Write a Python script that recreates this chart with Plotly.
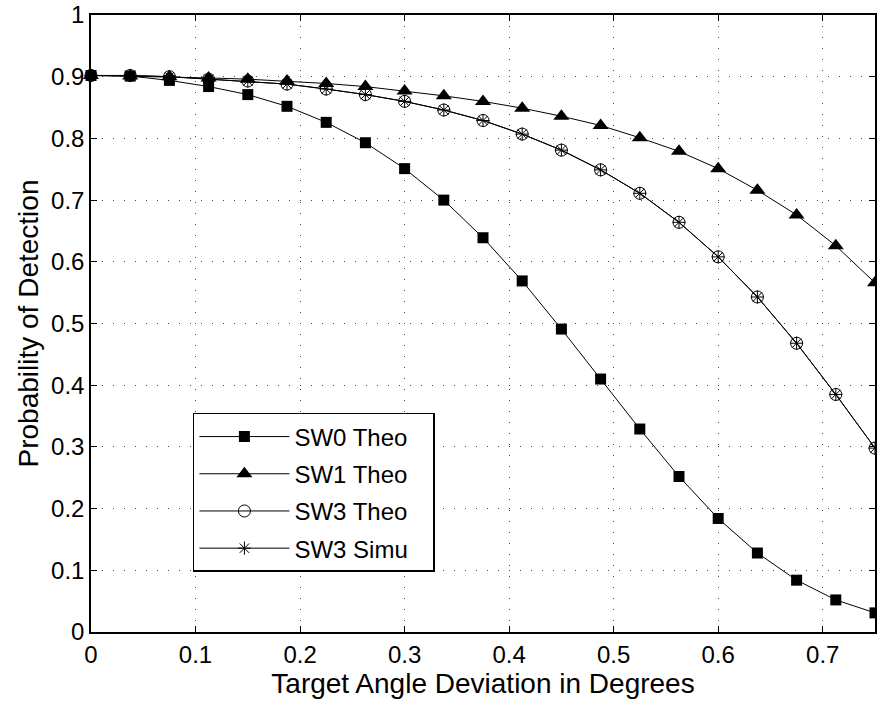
import plotly.graph_objects as go

x_deg = [0.0, 0.0375, 0.075, 0.1125, 0.15, 0.1875, 0.225, 0.2625, 0.3, 0.3375,
         0.375, 0.4125, 0.45, 0.4875, 0.525, 0.5625, 0.6, 0.6375, 0.675, 0.7125, 0.75]

sw0_theo = [0.902, 0.901, 0.894, 0.884, 0.871, 0.852, 0.826, 0.793, 0.751, 0.700,
            0.639, 0.569, 0.491, 0.410, 0.329, 0.252, 0.184, 0.128, 0.084, 0.052, 0.031]
sw1_theo = [0.902, 0.901, 0.900, 0.898, 0.896, 0.893, 0.889, 0.884, 0.877, 0.869,
            0.860, 0.849, 0.836, 0.821, 0.801, 0.779, 0.751, 0.716, 0.676, 0.626, 0.566]
sw3_theo = [0.902, 0.902, 0.900, 0.896, 0.893, 0.888, 0.880, 0.871, 0.860, 0.846,
            0.829, 0.807, 0.781, 0.749, 0.711, 0.664, 0.608, 0.543, 0.468, 0.385, 0.298]
sw3_simu = [0.902, 0.902, 0.900, 0.896, 0.893, 0.888, 0.880, 0.871, 0.860, 0.846,
            0.829, 0.807, 0.781, 0.749, 0.711, 0.664, 0.608, 0.543, 0.468, 0.385, 0.298]

x_ticks = [0, 0.1, 0.2, 0.3, 0.4, 0.5, 0.6, 0.7]
x_tick_labels = ["0", "0.1", "0.2", "0.3", "0.4", "0.5", "0.6", "0.7"]
y_ticks = [0, 0.1, 0.2, 0.3, 0.4, 0.5, 0.6, 0.7, 0.8, 0.9, 1]
y_tick_labels = ["0", "0.1", "0.2", "0.3", "0.4", "0.5", "0.6", "0.7", "0.8", "0.9", "1"]

FONT = "Liberation Sans, Arial, Helvetica, sans-serif"
PAD = "\u00a0\u00a0\u00a0"

series = [
    ("SW0 Theo", sw0_theo, dict(symbol="square", size=11, color="black")),
    ("SW1 Theo", sw1_theo, dict(symbol="triangle-up", size=14, color="black")),
    ("SW3 Theo", sw3_theo, dict(symbol="circle-open", size=12, color="black", line=dict(width=1, color="black"))),
    ("SW3 Simu", sw3_simu, dict(symbol="asterisk-open", size=11, color="black", line=dict(width=1, color="black"))),
]

fig = go.Figure()
for i, (name, ys, mk) in enumerate(series):
    fig.add_trace(go.Scatter(
        x=x_deg, y=ys, name=name + PAD, mode="lines+markers",
        line=dict(color="black", width=1),
        marker=mk, cliponaxis=False, legendgroup="g%d" % i,
    ))

axis_common = dict(
    showline=True, linecolor="black", linewidth=1.5, mirror="ticks",
    ticks="inside", ticklen=6, tickcolor="black", tickwidth=1,
    showgrid=True, gridcolor="#444", gridwidth=1, griddash="1px,10px",
    zeroline=False, automargin=False,
    tickfont=dict(family=FONT, size=24, color="black"),
)

fig.update_xaxes(range=[0, 0.75], tickvals=x_ticks, ticktext=x_tick_labels,
                 ticklabelstandoff=0,
                 title=dict(text="Target Angle Deviation in Degrees", standoff=4,
                            font=dict(family=FONT, size=28, color="black")),
                 **axis_common)
fig.update_yaxes(range=[0, 1], tickvals=y_ticks, ticktext=y_tick_labels,
                 ticklabelstandoff=0,
                 title=dict(text="Probability of Detection", standoff=4,
                            font=dict(family=FONT, size=28, color="black")),
                 **axis_common)

fig.update_layout(
    width=877, height=707,
    margin=dict(l=91, r=2, t=15, b=75),
    paper_bgcolor="white", plot_bgcolor="white",
    showlegend=True,
    legend=dict(x=0.13, y=0.355, xanchor="left", yanchor="top",
                bgcolor="white", bordercolor="black", borderwidth=1.5,
                font=dict(family=FONT, size=24, color="black"),
                itemwidth=90, tracegroupgap=3, traceorder="grouped"),
)

fig.write_html("out.html", config={"displayModeBar": False},
               post_script="document.body.style.margin='0';document.body.style.overflow='hidden';")
